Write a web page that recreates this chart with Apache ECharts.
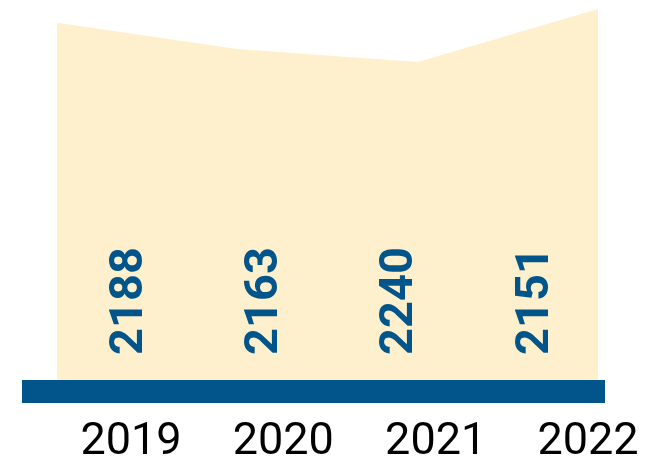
<!DOCTYPE html>
<html><head><meta charset="utf-8">
<script src="https://cdn.jsdelivr.net/npm/echarts@6/dist/echarts.min.js"></script>
<style>html,body{margin:0;padding:0;background:#fff}#c{width:664px;height:462px}</style>
</head><body><div id="c"></div>
<script>
const years = ['2019', '2020', '2021', '2022'];
const values = [2188, 2163, 2240, 2151];
// decorative backdrop height (percent of panel)
const backdrop = [94.0, 87.1, 83.7, 97.6];
const blue = '#02558A';

const chart = echarts.init(document.getElementById('c'), null, {renderer: 'canvas'});
chart.setOption({
  animation: false,
  grid: [
    {left: 57, right: 66, top: 0, bottom: 82, outerBoundsMode: 'none'},
    {left: 22, right: 59, top: 0, bottom: 70.5, outerBoundsMode: 'none'},
    {left: 131, right: 76, top: 0, bottom: 70.5, outerBoundsMode: 'none'},
    {left: 130, right: 128, top: 366, bottom: 46, outerBoundsMode: 'none'}
  ],
  xAxis: [
    {gridIndex: 0, type: 'category', data: years, boundaryGap: false, show: false},
    {gridIndex: 1, type: 'category', data: years, z: 5, axisLine: {show: true, lineStyle: {color: blue, width: 23, cap: 'butt'}}, axisTick: {show: false}, axisLabel: {show: false}},
    {gridIndex: 2, type: 'category', data: years, boundaryGap: false, axisLine: {show: false}, axisTick: {show: false},
      axisLabel: {show: true, margin: 29, fontFamily: 'Roboto', fontSize: 45, lineHeight: 45, color: '#000', interval: 0, hideOverlap: false}},
    {gridIndex: 3, type: 'category', position: 'top', data: values.map(String), boundaryGap: false, z: 10,
      axisLine: {show: false}, axisTick: {show: false}, splitLine: {show: false},
      axisLabel: {show: true, rotate: 90, margin: 11, interval: 0, hideOverlap: false,
        fontFamily: 'Roboto', fontWeight: 'bold', fontSize: 47, color: blue}}
  ],
  yAxis: [
    {gridIndex: 0, type: 'value', min: 0, max: 100, show: false},
    {gridIndex: 1, type: 'value', show: false},
    {gridIndex: 2, type: 'value', show: false},
    {gridIndex: 3, type: 'value', show: false}
  ],
  series: [
    {type: 'line', xAxisIndex: 0, yAxisIndex: 0, data: backdrop, symbol: 'none', z: -1,
      lineStyle: {width: 0, color: '#FFF0CD'}, areaStyle: {color: '#FFF0CD', opacity: 1}}
  ]
});
</script></body></html>
